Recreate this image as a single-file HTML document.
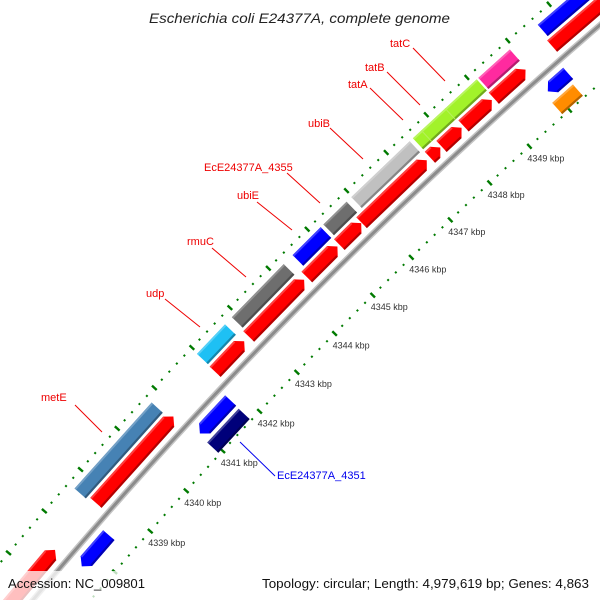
<!DOCTYPE html>
<html><head><meta charset="utf-8"><style>
html,body{margin:0;padding:0;background:#fff;width:600px;height:600px;overflow:hidden;}
svg{display:block;overflow:hidden;}
text{font-family:"Liberation Sans","DejaVu Sans",sans-serif;}
</style></head><body>
<svg id="map" width="600" height="600" viewBox="0 0 600 600" xmlns="http://www.w3.org/2000/svg">
<defs><clipPath id="frame"><rect x="0" y="0" width="600" height="600"/></clipPath></defs>
<rect x="0" y="0" width="600" height="600" fill="#fff"/>
<g clip-path="url(#frame)">
<g id="rings"></g>
<g id="feats"></g>
<g id="labels"></g>
</g>
<text x="149" y="23" font-size="14" font-style="italic" fill="#222" textLength="301" lengthAdjust="spacingAndGlyphs">Escherichia coli E24377A, complete genome</text>
<rect x="0" y="571" width="152" height="29" fill="#fff" fill-opacity="0.75"/>
<text x="8" y="588" font-size="13" fill="#111" textLength="137" lengthAdjust="spacingAndGlyphs">Accession: NC_009801</text>
<text x="262" y="588" font-size="13" fill="#111" textLength="327" lengthAdjust="spacingAndGlyphs">Topology: circular; Length: 4,979,619 bp; Genes: 4,863</text>
</svg>
<script>
// ---- data ----
const featureNames = ["fwd-a","metE-gene","udp-gene","rmuC-gene","ubiE-gene","4355-gene","ubiB-gene","tatA-gene","tatB-gene","tatC-gene","fwd-b","fwd-c",
  "metE","udp","rmuC","ubiE","EcE24377A_4355","ubiB","tatABC","pink-feature","blue-top",
  "rev-a","rev-4351","rev-top","EcE24377A_4351","orange-feature"];
const featureStarts = [4336.2,4338.73,4341.97,4342.86,4344.38,4345.22,4345.79,4347.52,4347.81,4348.36,4349.11,4350.54,
  4338.67,4341.98,4342.90,4344.48,4345.27,4345.98,4347.53,4349.15,4350.6,
  4337.68,4340.95,4349.93,4340.92,4349.85];
const featureEnds = [4337.59,4340.85,4342.74,4344.31,4345.17,4345.78,4347.44,4347.78,4348.31,4349.06,4349.89,4352.5,
  4340.77,4342.72,4344.25,4345.20,4345.86,4347.45,4349.11,4349.92,4352.5,
  4338.44,4341.78,4350.43,4341.77,4350.36];
// strand: 1 forward arrow, -1 reverse arrow, 0 plain bar
const featureStrands = [1,1,1,1,1,1,1,1,1,1,1,1, 0,0,0,0,0,0,0,0,0, -1,-1,-1, 0,0];
const featureLanes = [1,1,1,1,1,1,1,1,1,1,1,1, 2,2,2,2,2,2,2,2,2, -1,-1,-1, -2,-2];
const featureColors = ["#ff0000","#ff0000","#ff0000","#ff0000","#ff0000","#ff0000","#ff0000","#ff0000","#ff0000","#ff0000","#ff0000","#ff0000",
  "#4682b4","#1ec0f4","#6e6e6e","#0000ff","#6e6e6e","#c0c0c0","#a2f22a","#ff2a9f","#0000ff",
  "#0000ff","#0000ff","#0000ff","#00007a","#ff8c00"];
const tatDividers = [4347.74,4348.33];
const tickLabelsKbp = [4339,4340,4341,4342,4343,4344,4345,4346,4347,4348,4349];
const tickStart = 4334, tickEnd = 4354;

// ---- geometry ----
const CX = 3867, CY = 3814, RB = 5003;
const T0 = -2.3636, K = 0.0109;
function ang(k){ return T0 + (k - 4344) * K; }
function pt(k, r){ const t = ang(k); return [CX + r*Math.cos(t), CY + r*Math.sin(t)]; }
function P(a){ return a[0].toFixed(2)+","+a[1].toFixed(2); }
const laneR = {"1":[5011,5026], "2":[5029,5044], "-1":[4980,4995], "-2":[4961,4976]};
const ns = "http://www.w3.org/2000/svg";
function mk(tag, attrs, parent){ const e = document.createElementNS(ns, tag); for (const k in attrs) e.setAttribute(k, attrs[k]); parent.appendChild(e); return e; }
function shade(hex, f){
  const n = parseInt(hex.slice(1),16); let r=(n>>16)&255,g=(n>>8)&255,b=n&255;
  if (f<0){ r*=1+f; g*=1+f; b*=1+f; } else { r+=(255-r)*f; g+=(255-g)*f; b+=(255-b)*f; }
  return "rgb("+Math.round(r)+","+Math.round(g)+","+Math.round(b)+")";
}
function arcPath(k1,k2,r){ let d=""; const n=80; for(let i=0;i<=n;i++){ const k=k1+(k2-k1)*i/n; d+=(i?"L":"M")+P(pt(k,r)); } return d; }

const rings = document.getElementById("rings");
let bb = mk("path",{d:arcPath(tickStart,tickEnd,RB),stroke:"#c4c4c4","stroke-width":6,fill:"none"},rings);


let bb2 = mk("path",{d:arcPath(tickStart,tickEnd,RB),stroke:"#8c8c8c","stroke-width":3,fill:"none"},rings);



function ring(rc, name){
  const g = mk("g",{},rings);
  
  
  for (let i = 0; i <= (tickEnd - tickStart) * 5; i++){
    const k = tickStart + i*0.2;
    const major = (i % 5 === 0);
    const half = major ? 3.2 : 1;
    const a = pt(k, rc - half), b = pt(k, rc + half);
    const l = mk("line",{x1:a[0],y1:a[1],x2:b[0],y2:b[1],stroke:"#007a00","stroke-width":major?2.4:2},g);
    
    
  }
}
ring(5052,'outer-tick-ring');
ring(4959,'inner-tick-ring');

tickLabelsKbp.forEach(k => {
  const p = pt(k, 4959);
  const t = mk("text",{x:(p[0]-2).toFixed(1),y:(p[1]+15).toFixed(1),"font-size":"9",fill:"#333"},rings);
  t.textContent = k + " kbp";
  
  
});

const feats = document.getElementById("feats");
featureNames.forEach((name, i) => {
  const k1 = featureStarts[i], k2 = featureEnds[i], s = featureStrands[i];
  const [r1, r2] = laneR[String(featureLanes[i])];
  const rm = (r1 + r2) / 2;
  const hk = 7 / (r2 * K);
  let pts;
  if (s === 1) pts = [pt(k1,r1), pt(k2-hk,r1), pt(k2,rm), pt(k2-hk,r2), pt(k1,r2)];
  else if (s === -1) pts = [pt(k1+hk,r1), pt(k1,rm), pt(k1+hk,r2), pt(k2,r2), pt(k2,r1)];
  else pts = [pt(k1,r1), pt(k2,r1), pt(k2,r2), pt(k1,r2)];
  const g = mk("g",{},feats);
  
  
  const c = featureColors[i];
  mk("polygon",{points:pts.map(P).join(" "),fill:c},g);
  let a = s===-1 ? pt(k1+hk,r1+1) : pt(k1,r1+1), b = s===1 ? pt(k2-hk,r1+1) : pt(k2,r1+1);
  mk("line",{x1:a[0],y1:a[1],x2:b[0],y2:b[1],stroke:shade(c,-0.3),"stroke-width":2.2},g);
  a = s===-1 ? pt(k1+hk,r2-1) : pt(k1,r2-1); b = s===1 ? pt(k2-hk,r2-1) : pt(k2,r2-1);
  mk("line",{x1:a[0],y1:a[1],x2:b[0],y2:b[1],stroke:shade(c,0.25),"stroke-width":2},g);
});
tatDividers.forEach(k => {
  const a = pt(k,5029), b = pt(k,5044);
  const l = mk("line",{x1:a[0],y1:a[1],x2:b[0],y2:b[1],stroke:"#b8f060","stroke-width":1},feats);
  
  
});

const labels = document.getElementById("labels");
const labelTexts = ["metE","udp","rmuC","ubiE","EcE24377A_4355","ubiB","tatA","tatB","tatC","EcE24377A_4351"];
const labelXY = [[41,401],[146,297],[187,245],[237,199],[204,171],[308,127],[348,88],[365,71],[390,47],[277,479]];
const lineXY = [[75,405,102,432],[165,299,200,327],[212,248,246,277],[257,202,292,230],[287,173,320,203],[330,128,363,159],[370,88,403,120],[387,72,420,105],[413,48,445,81],[240,442,275,476]];
labelTexts.forEach((txt, i) => {
  const col = i === 9 ? "#0000ee" : "#ee0000";
  const l = mk("line",{x1:lineXY[i][0],y1:lineXY[i][1],x2:lineXY[i][2],y2:lineXY[i][3],stroke:col,"stroke-width":1},labels);
  
  
  const t = mk("text",{x:labelXY[i][0],y:labelXY[i][1],"font-size":"11",fill:col},labels);
  t.textContent = txt;
  
  
});
</script>
</body></html>
